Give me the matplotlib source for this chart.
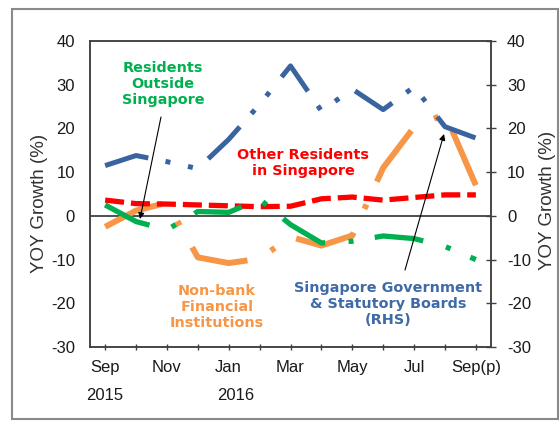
import matplotlib
matplotlib.use('Agg')
import matplotlib.pyplot as plt
from matplotlib.patches import Rectangle, FancyArrowPatch
from matplotlib.transforms import blended_transform_factory

months = ['Sep', 'Oct', 'Nov', 'Dec', 'Jan', 'Feb', 'Mar', 'Apr', 'May', 'Jun', 'Jul', 'Aug', 'Sep(p)']
tick_labels = ['Sep', '', 'Nov', '', 'Jan', '', 'Mar', '', 'May', '', 'Jul', '', 'Sep(p)']
year_labels = ['2015', '2016']
year_pos = [0, 4.24]

residents_outside = [2.5, -1.3, -3.2, 1.0, 0.8, 3.8, -2.0, -6.2, -5.8, -4.6, -5.2, -7.0, -10.0]
other_residents = [3.6, 2.8, 2.7, 2.5, 2.3, 2.1, 2.2, 3.9, 4.3, 3.6, 4.2, 4.8, 4.8]
nonbank_fi = [-2.5, 1.2, 3.0, -9.5, -10.8, -9.8, -4.8, -6.8, -4.5, 11.0, 20.3, 23.3, 7.0]
govt_stat = [11.5, 13.8, 12.4, 10.8, 17.5, 25.5, 34.3, 24.0, 29.0, 24.3, 29.5, 20.4, 17.8]

C_BLUE = '#3A64A0'
C_BLUE_TXT = '#3F6AA6'
C_GREEN = '#00B050'
C_ORANGE = '#F79646'
C_RED = '#FF0000'

plt.rcParams['lines.scale_dashes'] = False
plt.rcParams['axes.unicode_minus'] = False
plt.rcParams['font.family'] = ['Liberation Sans', 'DejaVu Sans']

W, H = 560, 421
fig = plt.figure(figsize=(W / 100, H / 100), dpi=100)


def box(x0, y0, x1, y1):
    return [x0 / W, 1 - y1 / H, (x1 - x0) / W, (y1 - y0) / H]


ax = fig.add_axes(box(90, 41, 491, 347))
ax2 = ax.twinx()

x = list(range(len(months)))

ax.axhline(0, color='#303030', lw=1.2, zorder=1)
ax.plot(x, nonbank_fi, color=C_ORANGE, lw=4.3, dashes=(44.6, 18.7, 3.6, 18), zorder=2)
ax.plot(x, other_residents, color=C_RED, lw=3.8, dashes=(13.7, 5), zorder=3)
ax.plot(x, residents_outside, color=C_GREEN, lw=3.8, dashes=(35.3, 16.9, 3.6, 15.5), zorder=4)
ax2.plot(x, govt_stat, color=C_BLUE, lw=3.6, dashes=(32.4, 12.6, 3.6, 13, 3.6, 14), zorder=5)

for a in (ax, ax2):
    a.set_ylim(-30, 40)
    a.set_xlim(-0.49, 12.49)
    a.set_yticks(range(-30, 41, 10))
    for s in a.spines.values():
        s.set_color('#404040')
        s.set_linewidth(1.1)

ax.set_xticks(x)
ax.set_xticklabels(tick_labels)
ax.tick_params(axis='x', direction='inout', length=4, width=1, color='#404040',
               pad=7.5, labelsize=12, labelcolor='#1a1a1a')
ax.tick_params(axis='y', length=0, pad=10.8, labelsize=12, labelcolor='#1a1a1a')
ax2.tick_params(axis='y', direction='inout', length=7, width=1, color='#404040',
                pad=8, labelsize=12, labelcolor='#1a1a1a')

trans = blended_transform_factory(ax.transData, fig.transFigure)
for lab, pos in zip(year_labels, year_pos):
    ax.text(pos, 1 - 396 / H, lab, transform=trans, ha='center', va='center',
            fontsize=12, color='#1a1a1a')

fig.text(39 / W, 1 - 203 / H, 'YOY Growth (%)', rotation=90, ha='center', va='center',
         fontsize=13.5, color='#333333')
fig.text(547 / W, 1 - 200 / H, 'YOY Growth (%)', rotation=90, ha='center', va='center',
         fontsize=13.5, color='#333333')

tfont = dict(family='DejaVu Sans', fontweight='bold', fontsize=10.4, ha='center',
             va='center', linespacing=1.22)
fig.text(163 / W, 1 - 84 / H, 'Residents\nOutside\nSingapore', color=C_GREEN, **tfont)
fig.text(303 / W, 1 - 163 / H, 'Other Residents\nin Singapore', color=C_RED, **tfont)
fig.text(217 / W, 1 - 307 / H, 'Non-bank\nFinancial\nInstitutions', color=C_ORANGE, **tfont)
fig.text(388 / W, 1 - 304 / H, 'Singapore Government\n& Statutory Boards\n(RHS)',
         color=C_BLUE_TXT, **tfont)

arrow = dict(arrowstyle='-|>', color='black', lw=0.8, mutation_scale=9,
             shrinkA=0, shrinkB=0)
fig.add_artist(FancyArrowPatch(
    (161 / W, 1 - 117 / H), (140 / W, 1 - 219 / H), transform=fig.transFigure, **arrow))
fig.add_artist(FancyArrowPatch(
    (405 / W, 1 - 270 / H), (444 / W, 1 - 134 / H), transform=fig.transFigure, **arrow))

fig.add_artist(Rectangle((12 / W, 1 - 419 / H), 546 / W, 410 / H, transform=fig.transFigure,
                         fill=False, edgecolor='#8a8a8a', lw=1.5))

fig.savefig('out.png', dpi=100)
